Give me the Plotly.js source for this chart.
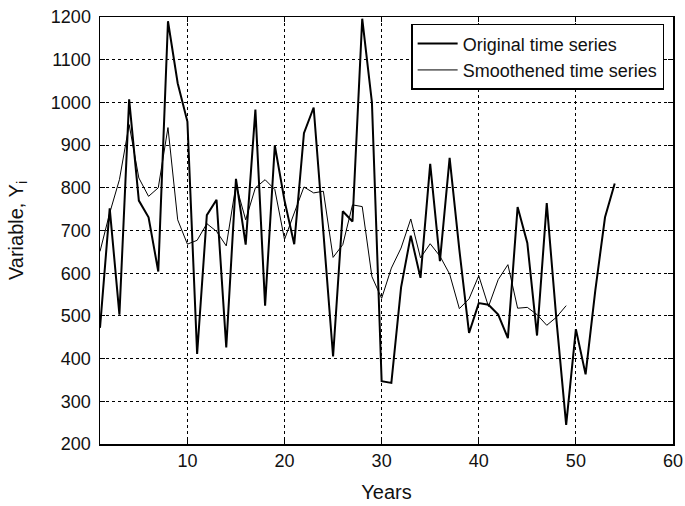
<!DOCTYPE html>
<html>
<head>
<meta charset="utf-8">
<script src="https://cdn.plot.ly/plotly-3.0.1.min.js"></script>
<style>html,body{margin:0;padding:0;background:#fff;}#chart{width:685px;height:506px;}</style>
</head>
<body>
<div id="chart"></div>
<script>
const originalYears = [1,2,3,4,5,6,7,8,9,10,11,12,13,14,15,16,17,18,19,20,21,22,23,24,25,26,27,28,29,30,31,32,33,34,35,36,37,38,39,40,41,42,43,44,45,46,47,48,49,50,51,52,53,54];
const originalValues = [472,752,503,1007,770,731,604,1190,1045,955,411,736,772,426,821,667,983,524,899,770,668,928,988,690,405,745,721,1196,1000,347,343,567,688,589,856,628,870,655,460,530,526,503,448,755,671,454,764,490,245,469,363,560,731,810];
const smoothYears = [1,2,3,4,5,6,7,8,9,10,11,12,13,14,15,16,17,18,19,20,21,22,23,24,25,26,27,28,29,30,31,32,33,34,35,36,37,38,39,40,41,42,43,44,45,46,47,48,49];
const smoothValues = [651,741,819,948,823,780,800,941,725,668,677,716,698,664,807,725,800,819,796,679,741,802,788,792,637,667,760,756,592,541,612,659,727,636,669,640,598,517,540,594,522,585,620,518,520,503,478,497,524];
const xTicks = [10,20,30,40,50,60];
const yTicks = [200,300,400,500,600,700,800,900,1000,1100,1200];

const font = 'Liberation Sans, Arial, sans-serif';
const traces = [
  {x: originalYears, y: originalValues, type: 'scatter', mode: 'lines', name: 'Original time series',
   line: {color: '#000', width: 2}},
  {x: smoothYears, y: smoothValues, type: 'scatter', mode: 'lines', name: 'Smoothened time series',
   line: {color: '#000', width: 1}}
];
const axisCommon = {
  showline: true, linecolor: '#000', linewidth: 1.5, mirror: 'ticks',
  ticks: 'inside', ticklen: 5, tickcolor: '#000',
  showgrid: true, gridcolor: '#000', griddash: 'dot', gridwidth: 1,
  zeroline: false, tickfont: {family: font, size: 18, color: '#111'}
};
const layout = {
  width: 685, height: 506,
  margin: {l: 100, r: 12, t: 17, b: 62},
  paper_bgcolor: '#fff', plot_bgcolor: '#fff',
  font: {family: font, color: '#111'},
  showlegend: true,
  legend: {x: 0.543, y: 0.984, xanchor: 'left', yanchor: 'top',
    bordercolor: '#000', borderwidth: 1.5, bgcolor: '#fff', itemwidth: 40,
    font: {family: font, size: 18, color: '#111'}, tracegroupgap: 0},
  xaxis: Object.assign({}, axisCommon, {range: [1, 60], tickvals: xTicks,
    title: {text: 'Years', font: {family: font, size: 20, color: '#111'}, standoff: 15}}),
  yaxis: Object.assign({}, axisCommon, {range: [200, 1200], tickvals: yTicks, ticklabelstandoff: 4,
    title: {text: 'Variable, Y<sub>i</sub>', font: {family: font, size: 20, color: '#111'}, standoff: 22}})
};
Plotly.newPlot('chart', traces, layout, {displayModeBar: false, staticPlot: true});
</script>
</body>
</html>
